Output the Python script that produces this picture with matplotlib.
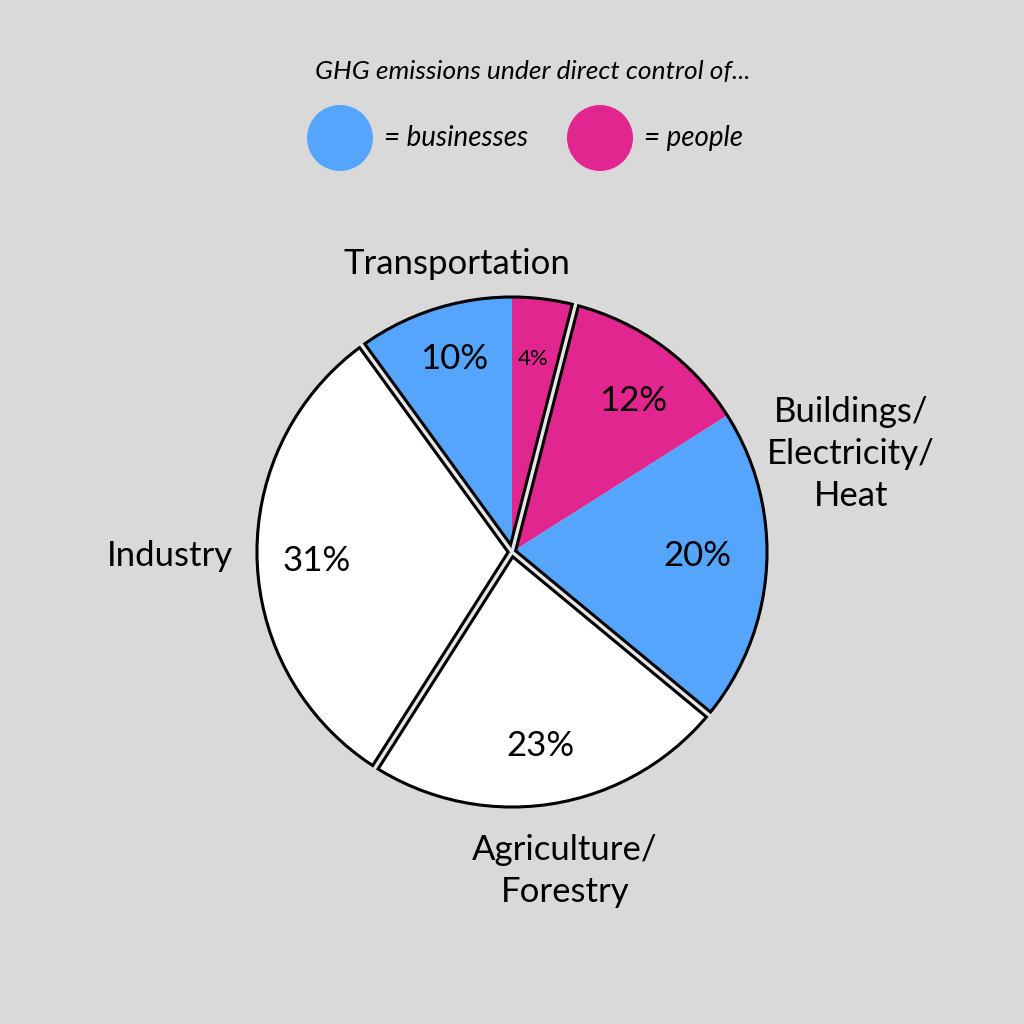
import numpy as np
import matplotlib.pyplot as plt
from matplotlib.patches import Circle

# slices clockwise from 12 o'clock
slice_values = [4, 12, 20, 23, 31, 10]
slice_colors = ['#e2268f', '#e2268f', '#55a5fd', '#ffffff', '#ffffff', '#55a5fd']
slice_labels = ['4%', '12%', '20%', '23%', '31%', '10%']
# a group boundary follows these slices
group_end_slices = [0, 2, 3, 4]
group_names = ['Transportation', 'Buildings/\nElectricity/\nHeat', 'Agriculture/\nForestry', 'Industry']

BG = '#d9d9d9'
GAP = '#e6e6e6'
FONT = 'Lato'

fig = plt.figure(figsize=(10.24, 10.24), dpi=100, facecolor=BG)
ax = fig.add_axes([0, 0, 1, 1])

cx, cy, R = 512, 1024 - 552, 255

ax.pie(slice_values, colors=slice_colors, startangle=90, counterclock=False,
       center=(cx, cy), radius=R, frame=True, wedgeprops=dict(linewidth=0))
ax.set_xlim(0, 1024)
ax.set_ylim(0, 1024)
ax.set_aspect('equal')
ax.axis('off')

# outer outline
ax.add_patch(Circle((cx, cy), R, fill=False, edgecolor='black', linewidth=2.2, zorder=3))

# group boundary lines: black double line with a light gap
cum = np.cumsum(slice_values) / 100.0
for idx in group_end_slices:
    ang = np.deg2rad(90 - 360 * cum[idx])
    x2, y2 = cx + R * np.cos(ang), cy + R * np.sin(ang)
    ax.plot([cx, x2], [cy, y2], color='black', linewidth=6.8, solid_capstyle='butt', zorder=4)
    ax.plot([cx, x2 + 2 * np.cos(ang)], [cy, y2 + 2 * np.sin(ang)], color=GAP,
            linewidth=2.4, solid_capstyle='butt', zorder=5)

# percentage labels
pct_pos = [(533, 359), (633, 401), (697, 556), (540, 746), (317, 561), (454, 359)]
pct_size = [16, 25, 25, 25, 25, 25]
for lab, (px, py), fs in zip(slice_labels, pct_pos, pct_size):
    ax.text(px, 1024 - py, lab, ha='center', va='center', fontsize=fs,
            family=FONT, color='black', zorder=6)

# category labels
name_pos = [(457, 264), (851, 454), (565, 871), (170, 556)]
for name, (px, py) in zip(group_names, name_pos):
    ax.text(px, 1024 - py, name, ha='center', va='center', fontsize=25,
            family=FONT, color='black', linespacing=1.4)

# legend
ax.text(533, 1024 - 72, 'GHG emissions under direct control of...', ha='center', va='center',
        fontsize=19, style='italic', family=FONT, color='black')
ax.add_patch(Circle((340, 1024 - 138), 33, color='#55a5fd', linewidth=0))
ax.text(384, 1024 - 138, '= businesses', ha='left', va='center', fontsize=20,
        style='italic', family=FONT, color='black')
ax.add_patch(Circle((600, 1024 - 138), 33, color='#e2268f', linewidth=0))
ax.text(644, 1024 - 138, '= people', ha='left', va='center', fontsize=20,
        style='italic', family=FONT, color='black')

fig.savefig('out.png', dpi=100, facecolor=BG)
